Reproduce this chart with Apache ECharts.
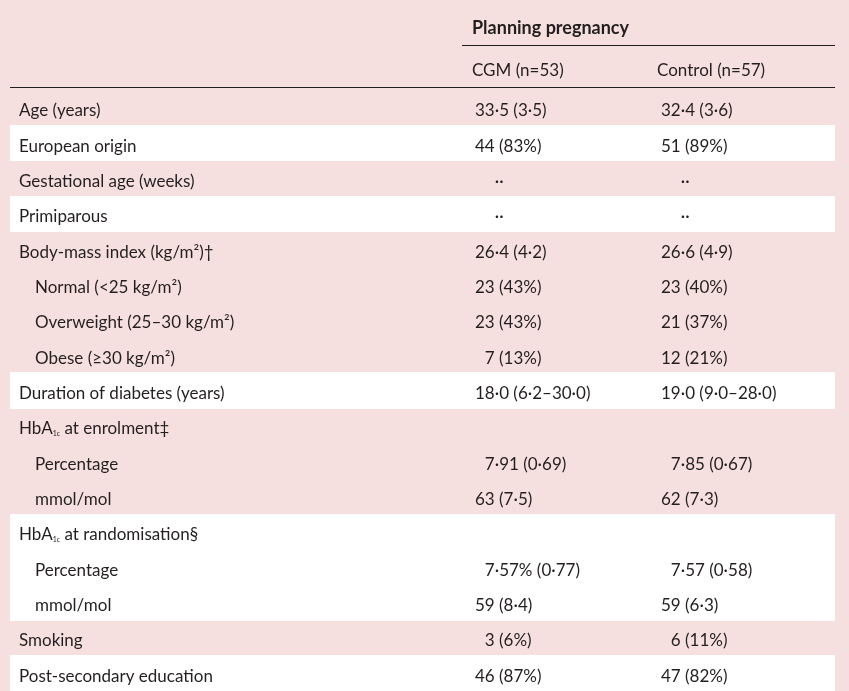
<!DOCTYPE html>
<html>
<head>
<meta charset="utf-8">
<script src="https://cdn.jsdelivr.net/npm/echarts@6/dist/echarts.min.js"></script>
<style>
html,body{margin:0;padding:0;background:#f6e0df;}
#main{width:849px;height:691px;}
</style>
</head>
<body>
<div id="main"></div>
<script>
// ---- table content ----
const groupTitle = 'Planning pregnancy';
const columnHeaders = ['CGM (n=53)', 'Control (n=57)'];
const rowLabels = [
  'Age (years)',
  'European origin',
  'Gestational age (weeks)',
  'Primiparous',
  'Body-mass index (kg/m²)†',
  'Normal (<25 kg/m²)',
  'Overweight (25–30 kg/m²)',
  'Obese (≥30 kg/m²)',
  'Duration of diabetes (years)',
  'HbA{sub|1c} at enrolment‡',
  'Percentage',
  'mmol/mol',
  'HbA{sub|1c} at randomisation§',
  'Percentage',
  'mmol/mol',
  'Smoking',
  'Post-secondary education'
];
const rowIndent = [0,0,0,0,0,1,1,1,0,0,1,1,0,1,1,0,0];
const rowWhite  = [0,1,0,1,0,0,0,0,1,0,0,0,1,1,1,0,1];
const cgmValues = [
  '33·5 (3·5)', '44 (83%)', '\u2007\u2007··', '\u2007\u2007··', '26·4 (4·2)',
  '23 (43%)', '23 (43%)', '\u20077 (13%)', '18·0 (6·2–30·0)', '',
  '\u20077·91 (0·69)', '63 (7·5)', '', '\u20077·57% (0·77)', '59 (8·4)',
  '\u20073 (6%)', '46 (87%)'
];
const controlValues = [
  '32·4 (3·6)', '51 (89%)', '\u2007\u2007··', '\u2007\u2007··', '26·6 (4·9)',
  '23 (40%)', '21 (37%)', '12 (21%)', '19·0 (9·0–28·0)', '',
  '\u20077·85 (0·67)', '62 (7·3)', '', '\u20077·57 (0·58)', '59 (6·3)',
  '\u20076 (11%)', '47 (82%)'
];

const FONT = 'Lato';
const INK = '#231f20';
const FS = 17;
const rich = { sub: { fontSize: 7, fontFamily: FONT, fill: INK, verticalAlign: 'bottom', lineHeight: 8 } };

const chart = echarts.init(document.getElementById('main'), null, { renderer: 'canvas' });

function renderItem(params, api) {
  const i = api.value(0);
  const c = api.coord([0, i]);
  const h = api.size([0, 1])[1];
  const xl = api.coord([10, i])[0];
  const xr = api.coord([835, i])[0];
  const y = c[1] + 3;
  const kids = [];
  if (rowWhite[i]) {
    const top = Math.floor(c[1] - h / 2);
    const bot = Math.ceil(c[1] + h / 2);
    kids.push({ type: 'rect', shape: { x: xl, y: top, width: xr - xl, height: bot - top }, style: { fill: '#ffffff' } });
  }
  kids.push({ type: 'text', x: api.coord([rowIndent[i] ? 35 : 19, i])[0], y: y,
    style: { text: rowLabels[i], rich: rich, font: FS + 'px ' + FONT, fill: INK, verticalAlign: 'middle', align: 'left' } });
  kids.push({ type: 'text', x: api.coord([475, i])[0], y: y,
    style: { text: cgmValues[i], font: FS + 'px ' + FONT, fill: INK, verticalAlign: 'middle', align: 'left' } });
  kids.push({ type: 'text', x: api.coord([661, i])[0], y: y,
    style: { text: controlValues[i], font: FS + 'px ' + FONT, fill: INK, verticalAlign: 'middle', align: 'left' } });
  return { type: 'group', children: kids };
}

chart.setOption({
  backgroundColor: '#f6e0df',
  animation: false,
  grid: { left: 0, right: 0, top: 90, bottom: 0 },
  xAxis: { type: 'value', min: 0, max: 849, show: false },
  yAxis: { type: 'category', data: rowLabels.map((_, i) => i), inverse: true, show: false, boundaryGap: true },
  graphic: [
    { type: 'text', left: 472, top: 19, style: { text: groupTitle, font: 'bold 18px ' + FONT, fill: INK } },
    { type: 'line', shape: { x1: 462, y1: 45.5, x2: 835, y2: 45.5 }, style: { stroke: INK, lineWidth: 1.2 } },
    { type: 'text', left: 472, top: 62, style: { text: columnHeaders[0], font: FS + 'px ' + FONT, fill: INK } },
    { type: 'text', left: 657, top: 62, style: { text: columnHeaders[1], font: FS + 'px ' + FONT, fill: INK } },
    { type: 'line', shape: { x1: 10, y1: 87.5, x2: 835, y2: 87.5 }, style: { stroke: INK, lineWidth: 1.2 } }
  ],
  series: [{
    type: 'custom',
    renderItem: renderItem,
    data: rowLabels.map((_, i) => [i]),
    encode: { y: 0 },
    silent: true
  }]
});
</script>
</body>
</html>
